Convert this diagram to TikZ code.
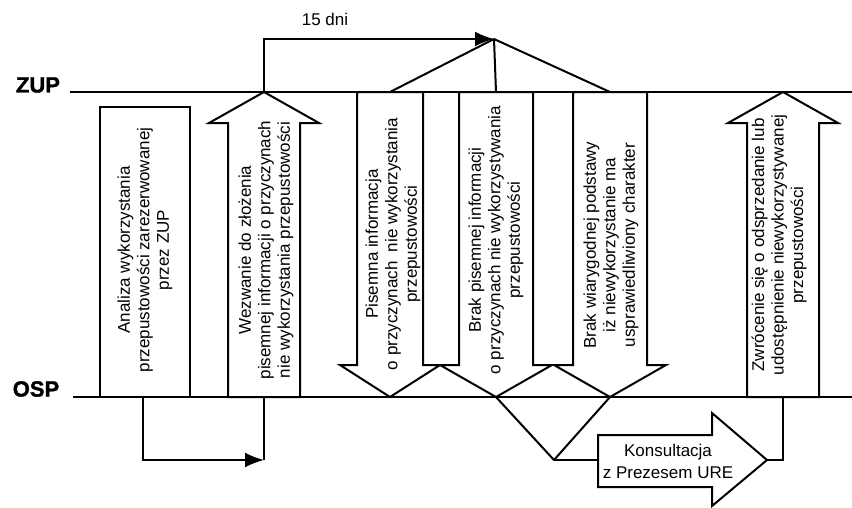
\documentclass[tikz,border=0pt]{standalone}
\usepackage{fontspec}
\setmainfont{Liberation Sans}
\newfontfamily\heavyfont{Liberation Sans}[BoldFeatures={FakeBold=1.5}]
\usetikzlibrary{arrows.meta}

\tikzset{
  lane/.style={font=\fontsize{22}{24}\selectfont\heavyfont\bfseries, inner sep=0pt},
  lbl/.style={rotate=90, align=center, inner sep=0pt, font=\fontsize{17}{19.5}\selectfont},
  blk/.style={line width=2pt},
  link/.style={line width=2pt},
  tip/.style={-{Latex[length=19pt,width=15pt]}}
}

\begin{document}
\begin{tikzpicture}[x=1pt,y=-1pt]

            \useasboundingbox (0,0) rectangle (852,507);

            \node[lane] (zup) at (38,85) {ZUP};
            \node[lane] (osp) at (36,389) {OSP};
            \coordinate (zup-l) at (70,92);
            \coordinate (zup-r) at (852,92);
            \coordinate (osp-l) at (73,397);
            \coordinate (osp-r) at (852,397);
            \draw[link] (zup-l) -- (zup-r);
            \draw[link] (osp-l) -- (osp-r);

            \draw[blk] (100,107) rectangle (190,397);
            \coordinate (ana-out) at (143,397);

            \foreach \cx/\nm in {264/wez,783/zwr}{
              \draw[blk] ({\cx-36},397) -- ({\cx-36},123) -- ({\cx-55},123) -- (\cx,92)
                -- ({\cx+55},123) -- ({\cx+36},123) -- ({\cx+36},397) -- cycle;
              \coordinate (\nm-top) at (\cx,92);
              \coordinate (\nm-bot) at (\cx,397);
            }

            \foreach \cx/\sw/\hw/\nm in {390/33/50/pis,496/37/56/brak,610/37/56/wiar}{
              \draw[blk] ({\cx-\sw},92) -- ({\cx-\sw},365) -- ({\cx-\hw},365) -- (\cx,397)
                -- ({\cx+\hw},365) -- ({\cx+\sw},365) -- ({\cx+\sw},92) -- cycle;
              \coordinate (\nm-top) at (\cx,92);
              \coordinate (\nm-tip) at (\cx,397);
            }

            \draw[blk] (598,435) -- (712,435) -- (712,413) -- (767,460)
              -- (712,506) -- (712,487) -- (598,487) -- cycle;
            \coordinate (kons-in) at (598,460);
            \coordinate (kons-tip) at (767,460);

            \node[lbl] (analiza) at (145,250) {Analiza wykorzystania\\przepustowości zarezerwowanej\\przez ZUP};
            \node[lbl] (wezwanie) at (266,250) {Wezwanie do złożenia\\pisemnej informacji o przyczynach\\nie wykorzystania przepustowości};
            \node[lbl] (pisemna) at (393,244) {Pisemna informacja\\o przyczynach\ \ nie wykorzystania\\przepustowości};
            \node[lbl] (brak) at (496,240) {Brak pisemnej informacji\\o przyczynach nie wykorzystywania\\przepustowości};
            \node[lbl] (wiarygodna) at (611,245) {Brak wiarygodnej podstawy\\iż niewykorzystanie ma\\usprawiedliwiony charakter};
            \node[lbl] (zwrocenie) at (779,245) {Zwrócenie się o odsprzedanie lub\\udostępnienie niewykorzystywanej\\przepustowości};
            \node[align=center, inner sep=0pt, font=\fontsize{17}{22}\selectfont] (konsultacja) at (668,461) {Konsultacja\\z Prezesem URE};

            \coordinate (fan) at (494,39);
            \draw[link,tip] (wez-top) |- (fan);
            \node[font=\fontsize{17}{19.5}\selectfont] (dni) at (325,19) {15 dni};
            \foreach \nm in {pis,brak,wiar}
              \draw[link] (fan) -- (\nm-top);

            \coordinate (turn) at (264,460);
            \draw[link,tip] (ana-out) |- (turn);
            \draw[link] (turn) -- (wez-bot);

            \coordinate (meet) at (554,460);
            \draw[link] (brak-tip) -- (meet) -- (wiar-tip);
            \draw[link] (meet) -- (kons-in);
            \draw[link] (kons-tip) -| (zwr-bot);

\end{tikzpicture}
\end{document}
